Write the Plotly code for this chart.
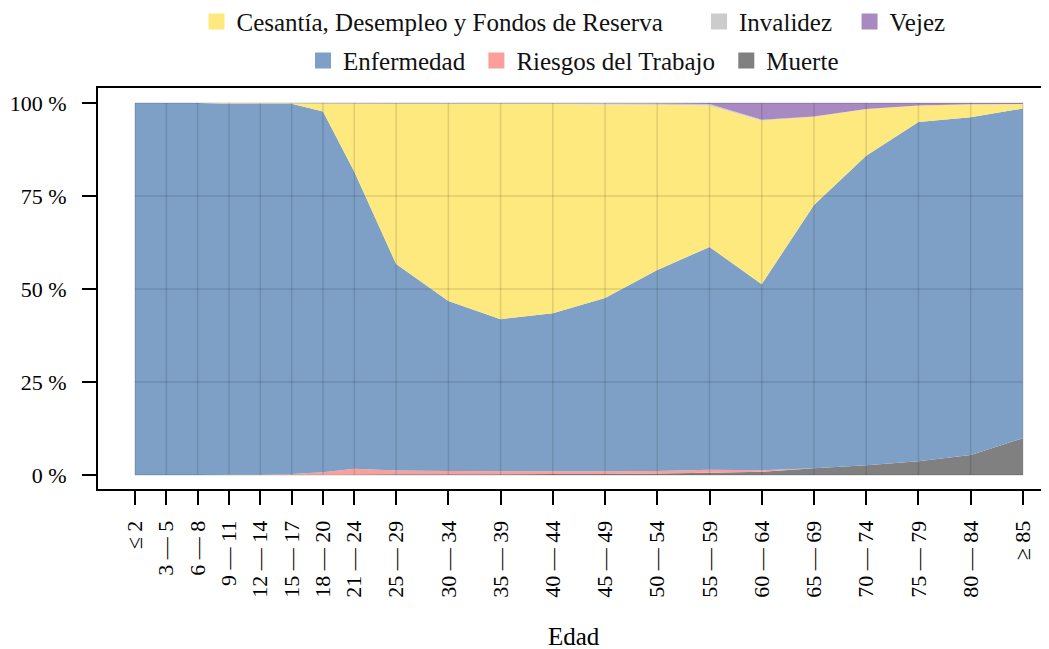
import plotly.graph_objects as go

# Age groups: lower bound of each group is used as the numeric position.
age_pos = [0, 3, 6, 9, 12, 15, 18, 21, 25, 30, 35, 40, 45, 50, 55, 60, 65, 70, 75, 80, 85]
age_labels = ["≤ 2", "3 — 5", "6 — 8", "9 — 11", "12 — 14", "15 — 17", "18 — 20",
              "21 — 24", "25 — 29", "30 — 34", "35 — 39", "40 — 44", "45 — 49",
              "50 — 54", "55 — 59", "60 — 64", "65 — 69", "70 — 74", "75 — 79",
              "80 — 84", "≥ 85"]

# Share (%) of each risk within the age group, stacked bottom → top.
muerte = [0.0, 0.0, 0.0, 0.02, 0.03, 0.05, 0.1, 0.15, 0.2, 0.2, 0.2, 0.25, 0.3,
          0.4, 0.6, 0.9, 1.8, 2.6, 3.7, 5.4, 9.9]
riesgos = [0.0, 0.0, 0.0, 0.02, 0.05, 0.2, 0.65, 1.5, 1.0, 0.9, 0.8, 0.75, 0.7,
           0.7, 0.8, 0.35, 0.05, 0.03, 0.02, 0.01, 0.01]
enfermedad = [100.0, 100.0, 100.0, 99.66, 99.72, 99.55, 96.95, 79.85, 55.5, 45.7,
              40.9, 42.5, 46.6, 54.0, 59.9, 50.05, 70.75, 83.17, 91.18, 90.79, 88.59]
cesantia = [0.0, 0.0, 0.0, 0.25, 0.15, 0.15, 2.2, 18.3, 43.0, 52.9, 57.8, 56.2,
            52.0, 44.4, 38.0, 44.0, 23.7, 12.5, 4.4, 3.4, 1.2]
invalidez = [0.0, 0.0, 0.0, 0.03, 0.03, 0.03, 0.05, 0.1, 0.2, 0.25, 0.25, 0.25,
             0.3, 0.35, 0.4, 0.2, 0.1, 0.1, 0.05, 0.05, 0.05]
vejez = [0.0, 0.0, 0.0, 0.02, 0.02, 0.02, 0.05, 0.1, 0.1, 0.05, 0.05, 0.05, 0.1,
         0.15, 0.3, 4.5, 3.6, 1.6, 0.65, 0.35, 0.25]

y_ticks = [0, 25, 50, 75, 100]

FONT = "Liberation Serif"
NBSP = "\u00a0"

# (name, values, colour), stacked bottom → top
series = [
    ("Muerte", muerte, "#808080"),
    ("Riesgos del Trabajo", riesgos, "#fc9f9a"),
    ("Enfermedad", enfermedad, "#7ea0c6"),
    ("Cesantía, Desempleo y Fondos de Reserva", cesantia, "#fde97e"),
    ("Invalidez", invalidez, "#cccccc"),
    ("Vejez", vejez, "#a889c2"),
]
colours = {name: colour for name, _, colour in series}

# legend rows as in the reference: (legend id, [(name, trailing pad)])
legend_rows = [
    ("legend", [("Cesantía, Desempleo y Fondos de Reserva", 5), ("Invalidez", 2), ("Vejez", 0)]),
    ("legend2", [("Enfermedad", 1), ("Riesgos del Trabajo", 1), ("Muerte", 0)]),
]

fig = go.Figure()
for name, values, colour in series:
    fig.add_trace(go.Scatter(
        x=age_pos, y=values, name=name, mode="none", showlegend=False,
        stackgroup="one", fill="tonexty", fillcolor=colour,
    ))

# legend-only square swatches
for leg, items in legend_rows:
    for name, pad in items:
        fig.add_trace(go.Scatter(
            x=[None], y=[None], name=name + NBSP * pad, mode="markers", legend=leg,
            marker={"symbol": "square", "size": 16, "color": colours[name]},
        ))

# Faint grid drawn on top of the filled areas, only over the data region.
grid = "rgba(0,0,0,0.12)"
for xv in age_pos:
    fig.add_shape(type="line", x0=xv, x1=xv, y0=y_ticks[0], y1=y_ticks[-1],
                  line={"color": grid, "width": 1.5}, layer="above")
for yv in y_ticks:
    fig.add_shape(type="line", x0=age_pos[0], x1=age_pos[-1], y0=yv, y1=yv,
                  line={"color": grid, "width": 1.5}, layer="above")

# x-axis title as an annotation (axis automargin is off)
fig.add_annotation(text="Edad", x=0.5, xref="paper", y=-0.369, yref="paper",
                   xanchor="center", yanchor="middle", showarrow=False,
                   font={"family": FONT, "size": 25, "color": "black"})

legend_common = dict(orientation="h", xanchor="center", x=0.5, yanchor="middle",
                     font={"family": FONT, "size": 25, "color": "#111"},
                     bgcolor="rgba(0,0,0,0)", itemwidth=30, traceorder="normal")

# the page adds an 8px body margin, so margins are shifted by 8px
fig.update_layout(
    width=1049, height=649,
    margin={"l": 90, "r": 8, "t": 80, "b": 168, "autoexpand": False},
    paper_bgcolor="white", plot_bgcolor="white",
    font={"family": FONT, "size": 22, "color": "black"},
    legend={**legend_common, "y": 1.165},
    legend2={**legend_common, "y": 1.068},
    xaxis={
        "range": [-3.54, 87.5], "tickvals": age_pos, "ticktext": age_labels,
        "tickangle": -90, "ticks": "outside", "ticklen": 14, "tickwidth": 2,
        "tickcolor": "black", "showline": True, "linewidth": 2, "linecolor": "black",
        "mirror": True, "showgrid": False, "zeroline": False, "automargin": False,
        "ticklabelstandoff": 7,
    },
    yaxis={
        "range": [-3.76, 104.03], "tickvals": y_ticks,
        "ticktext": [f"{v} %" for v in y_ticks], "automargin": False,
        "ticks": "outside", "ticklen": 14, "tickwidth": 2, "tickcolor": "black",
        "showline": True, "linewidth": 2, "linecolor": "black",
        "showgrid": False, "zeroline": False, "ticklabelstandoff": 11,
    },
)

fig.write_html("out.html")
